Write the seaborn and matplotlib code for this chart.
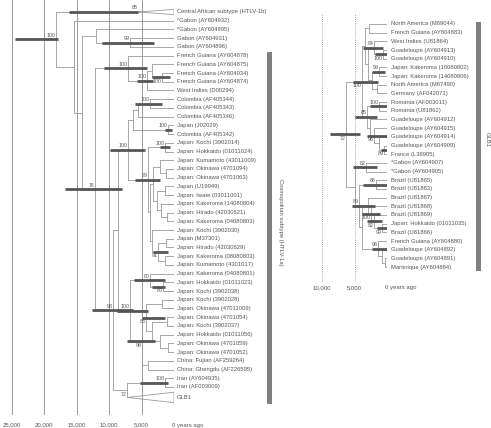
import matplotlib
matplotlib.use("Agg")
import matplotlib.pyplot as plt
import matplotlib.transforms as mtransforms
from matplotlib.patches import Rectangle
import pandas as pd
import seaborn as sns

# ---------------- left tree: HTLV-1 overview ----------------
left_tips = [
    "Central African subtype (HTLV-1b)",
    "*Gabon (AY604932)", "*Gabon (AY604895)", "Gabon (AY604931)", "Gabon (AY604896)",
    "French Guiana (AY604878)", "French Guiana (AY604875)", "French Guiana (AY604934)",
    "French Guiana (AY604874)", "West Indies (D00294)",
    "Colombia (AF405344)", "Colombia (AF405343)", "Colombia (AF405346)",
    "Japan (J02029)", "Colombia (AF405342)",
    "Japan: Kochi (3902014)", "Japan: Hokkaido (01011024)", "Japan: Kumamoto (43011009)",
    "Japan: Okinawa (4701094)", "Japan: Okinawa (4701063)", "Japan (U19949)",
    "Japan: Iwate (03011001)", "Japan: Kakeroma (14080804)", "Japan: Hirado (42030621)",
    "Japan: Kakeroma (04080803)", "Japan: Kochi (3902030)", "Japan (M37301)",
    "Japan: Hirado (42030629)", "Japan: Kakeroma (08080803)", "Japan: Kumamoto (4301017)",
    "Japan: Kakeroma (04080801)", "Japan: Hokkaido (01011023)", "Japan: Kochi (3902038)",
    "Japan: Kochi (3902028)", "Japan: Okinawa (47011009)", "Japan: Okinawa (4701054)",
    "Japan: Kochi (3902037)", "Japan: Hokkaido (01011056)", "Japan: Okinawa (4701059)",
    "Japan: Okinawa (4701052)", "China: Fujian (AF259264)", "China: Ghengdu (AF226595)",
    "Iran (AY604935)", "Iran (AF003009)", "GLB1",
]
left_tip_y = list(range(44)) + [44.2]
left_collapsed = {"CA": 0, "GLB1": 44}

left_children = {
    "R": ["CA", "A"], "A": [1, "B"], "B": ["G", "D"], "G": [2, "G99"], "G99": [3, 4],
    "D": ["FG", "E"], "FG": [5, "FG2"], "FG2": ["FG3", 9], "FG3": [6, "FG4"], "FG4": [7, 8],
    "E": ["F", "GI"], "F": ["CJ", "N100b"], "CJ": ["C0", "J79"], "C0": ["C1", "P1314"],
    "C1": ["P1011", 12], "P1011": [10, 11], "P1314": [13, 14],
    "J79": ["J100", "Jbig"], "J100": [15, 16], "Jbig": ["Jx", "Jup"], "Jx": ["J17", "J20"],
    "J17": [17, "P1819"], "P1819": [18, 19], "J20": ["P2021", "J22"], "P2021": [20, 21],
    "J22": [22, "P2324"], "P2324": [23, 24], "Jup": [25, "N91"], "N91": ["P2627", "P2829"],
    "P2627": [26, 27], "P2829": [28, 29],
    "N100b": ["N80", "N98b"], "N80": [30, "P3132"], "P3132": [31, 32],
    "N98b": ["N88", "CH"], "N88": ["J33", "J35"], "J33": [33, 34], "J35": ["P3536", "J37"],
    "P3536": [35, 36], "J37": [37, "P3839"], "P3839": [38, 39], "CH": [40, 41],
    "GI": ["IR", "GLB1"], "IR": [42, 43],
}
# node ages (years before present)
left_age = {
    "R": 18200, "CA": 5550, "A": 15430, "B": 14200, "G": 12040, "G99": 6790, "D": 12190,
    "FG": 7100, "FG2": 4170, "FG3": 3400, "FG4": 1850, "E": 9410, "F": 8640, "CJ": 7100,
    "C0": 6330, "C1": 5550, "P1011": 3700, "P1314": 930, "J79": 4010, "J100": 1390,
    "Jbig": 3700, "Jx": 3240, "J17": 2160, "P1819": 1230, "J20": 2620, "P2021": 1390,
    "J22": 2000, "P2324": 1080, "Jup": 3400, "N91": 2470, "P2627": 1230, "P2829": 1390,
    "N100b": 6790, "N80": 3700, "P3132": 1700, "N98b": 4940, "N88": 4320, "J33": 1850,
    "J35": 3400, "P3536": 1080, "J37": 2160, "P3839": 930, "CH": 4010, "GI": 7250,
    "GLB1": 7200, "IR": 1390,
}
left_support = {
    "R": 100, "CA": 85, "G99": 99, "D": 76, "FG": 100, "FG2": 100, "FG4": 100, "E": 98,
    "GI": 72, "IR": 100, "CJ": 100, "P1011": 100, "P1314": 100, "J100": 100, "J79": 79,
    "N91": 91, "N80": 80, "P3132": 80, "N88": 88, "N98b": 98, "N100b": 100,
}
left_below = ["FG4", "GI", "N91", "P3132", "N88", "N98b"]
left_hpd = {
    "R": (24500, 17900), "CA": (16200, 5550), "G99": (11100, 3100), "D": (16800, 8000),
    "FG": (10800, 4200), "FG2": (5700, 3200), "FG4": (3400, 600), "E": (12650, 6300),
    "IR": (5250, 900), "CJ": (9900, 4500), "P1011": (6000, 1850), "P1314": (1400, 300),
    "J100": (2150, 600), "J79": (6000, 2150), "N91": (3250, 900), "N80": (6150, 1400),
    "P3132": (3400, 1400), "N88": (4950, 1400), "N98b": (7250, 2900), "N100b": (8800, 4000),
}
left_ticks = [25000, 20000, 15000, 10000, 5000]

# ---------------- right tree: GLB1 expanded ----------------
right_tips = [
    "North America (M69044)", "French Guiana (AY604883)", "West Indies (U81864)",
    "Guadeloupe (AY604913)", "Guadeloupe (AY604910)", "Japan: Kakeroma (16080802)",
    "Japan: Kakeroma (14080806)", "North America (M67490)", "Germany (AF042071)",
    "Romania (AF003011)", "Romania (U81862)", "Guadeloupe (AY604912)",
    "Guadeloupe (AY604915)", "Guadeloupe (AY604914)", "Guadeloupe (AY604909)",
    "France (L36905)", "*Gabon (AY604907)", "*Gabon (AY604905)", "Brazil (U81865)",
    "Brazil (U81863)", "Brazil (U81867)", "Brazil (U81868)", "Brazil (U81869)",
    "Japan: Hokkaido (01011035)", "Brazil (U81866)", "French Guiana (AY604880)",
    "Guadeloupe (AY604892)", "Guadeloupe (AY604891)", "Martinique (AY604884)",
]
right_tip_y = list(range(29))
right_children = {
    "RR": ["U", "L"], "U": ["UA", "UB"], "UA": ["P01", "UA2"], "P01": [0, 1],
    "UA2": ["N84", "UA3"], "N84": [2, "P34"], "P34": [3, 4], "UA3": ["P56", "UA4"],
    "P56": [5, 6], "UA4": [7, 8], "UB": ["P910", "UB2"], "P910": [9, 10],
    "UB2": [11, "UB3"], "UB3": [12, "UB4"], "UB4": [13, "P1415"], "P1415": [14, 15],
    "L": ["G82", "L2"], "G82": [16, 17], "L2": ["B86", "L3"], "B86": [18, 19],
    "L3": ["Ba", "C98"], "Ba": [20, "B100"], "B100": [21, "B82"], "B82": [22, "B99"],
    "B99": [23, 24], "C98": [25, "C2"], "C2": [26, "C3"], "C3": [27, 28],
}
right_age = {
    "RR": 6330, "U": 3860, "UA": 3400, "P01": 2780, "UA2": 2930, "N84": 2010, "P34": 620,
    "UA3": 2310, "P56": 1230, "UA4": 1540, "UB": 3090, "P910": 1230, "UB2": 2620,
    "UB3": 2010, "UB4": 1230, "P1415": 460, "L": 4940, "G82": 3240, "L2": 4320,
    "B86": 1700, "L3": 3860, "Ba": 2930, "B100": 2470, "B82": 2010, "B99": 770,
    "C98": 1390, "C2": 770, "C3": 310,
}
right_support = {
    "RR": 72, "U": 100, "N84": 84, "P34": 100, "P56": 99, "P910": 100, "UB": 85,
    "UB3": 98, "P1415": 89, "G82": 82, "L2": 89, "B86": 86, "B100": 100, "B82": 82,
    "B99": 99, "C98": 98,
}
right_below = ["RR", "U", "P34", "UB3", "P1415", "B100", "B82", "B99"]
right_hpd = {
    "RR": (8840, 4190), "U": (5270, 1400), "N84": (3720, 620), "P34": (1860, 0),
    "P56": (2330, 310), "P910": (2640, 0), "UB": (4960, 1550), "UB3": (3100, 0),
    "P1415": (930, 0), "G82": (5270, 1550), "L2": (5430, 1860), "B86": (3720, 0),
    "B100": (3880, 1080), "B82": (3100, 780), "B99": (1550, 0), "C98": (2330, 0),
}
right_ticks = [10000, 5000]

BRANCH = "#9a9a9a"
BAR = "#555555"
TEXT = "#555555"
GRID = "#8a8a8a"


def tree_frames(children, ages, tip_y, collapsed, tri_h):
    def age(n):
        return 0.0 if isinstance(n, int) else ages[n]

    cache = {}

    def ypos(n):
        if isinstance(n, int):
            return tip_y[n]
        if n in collapsed:
            return tip_y[collapsed[n]]
        if n not in cache:
            ys = [ypos(c) for c in children[n]]
            cache[n] = (min(ys) + max(ys)) / 2
        return cache[n]

    rows = []
    seg = 0
    for n, kids in children.items():
        ys = [ypos(c) for c in kids]
        rows += [(seg, age(n), min(ys)), (seg, age(n), max(ys))]
        seg += 1
        for c in kids:
            rows += [(seg, age(n), ypos(c)), (seg, age(c), ypos(c))]
            seg += 1
    for n in collapsed:
        yc, a, h = ypos(n), age(n), tri_h[n]
        rows += [(seg, a, yc), (seg, 0, yc - h), (seg, 0, yc + h), (seg, a, yc)]
        seg += 1
    nodes = list(children) + list(collapsed)
    return pd.DataFrame(rows, columns=["seg", "x", "y"]), {n: ypos(n) for n in nodes}


def draw_tree(ax, fig, tips, tip_y, children, ages, collapsed, tri_h,
              support, below, hpd, label_dx):
    df, ny = tree_frames(children, ages, tip_y, collapsed, tri_h)
    sns.lineplot(data=df, x="x", y="y", units="seg", estimator=None, sort=False,
                 color=BRANCH, lw=0.6, ax=ax, legend=False, zorder=2)
    bars = []
    for i, (n, (lo, hi)) in enumerate(hpd.items()):
        bars += [(i, lo, ny[n]), (i, hi, ny[n])]
    bdf = pd.DataFrame(bars, columns=["seg", "x", "y"])
    sns.lineplot(data=bdf, x="x", y="y", units="seg", estimator=None, sort=False,
                 color=BAR, lw=2.0, ax=ax, legend=False, zorder=3,
                 solid_capstyle="butt")
    up = mtransforms.offset_copy(ax.transData, fig=fig, x=-0.5, y=1.6, units="dots")
    down = mtransforms.offset_copy(ax.transData, fig=fig, x=-0.5, y=-1.6, units="dots")
    for n, s in support.items():
        lo = n in below
        ax.text(ages[n], ny[n], str(s), ha="right", va="top" if lo else "bottom",
                fontsize=3.8, color=TEXT, transform=down if lo else up, zorder=4)
    lab = mtransforms.offset_copy(ax.transData, fig=fig, x=label_dx, y=0, units="dots")
    for t, y in zip(tips, tip_y):
        ax.text(0, y, t, ha="left", va="center", fontsize=4.2, color=TEXT,
                transform=lab, clip_on=False)


sns.set_theme(style="white")
plt.rcParams["font.family"] = ["Liberation Sans", "DejaVu Sans"]

W, H = 491, 428
SCALE = 0.00648   # pixels per year
fig = plt.figure(figsize=(W / 100, H / 100), dpi=100)

# left panel: x pixels 0..174, y pixels 0..415 ; tip 0 at y=12, step 8.72
axL = fig.add_axes([0, (H - 415) / H, 174 / W, 415 / H])
axL.set_xlim(174 / SCALE, 0)
axL.set_ylim((415 - 12) / 8.72, -12 / 8.72)
axL.axis("off")
for t in left_ticks:
    axL.axvline(t, color=GRID, lw=0.6, zorder=0)
axL.axvline(0, color=GRID, lw=0.6, ls=(0, (1, 1.5)), zorder=0)
draw_tree(axL, fig, left_tips, left_tip_y, left_children, left_age, left_collapsed,
          {"CA": 0.3, "GLB1": 0.6}, left_support, left_below, left_hpd, 3)
ty = (425 - 12) / 8.72
for t in left_ticks:
    axL.text(t, ty, f"{t:,}", ha="center", va="center", fontsize=4.3, color=TEXT,
             clip_on=False)
zl = mtransforms.offset_copy(axL.transData, fig=fig, x=-1.6, y=0, units="dots")
axL.text(0, ty, "0 years ago", ha="left", va="center", fontsize=4.3, color=TEXT,
         transform=zl, clip_on=False)

# right panel: x pixels 300..387, y pixels 13..282 ; tip 0 at y=24, step 8.68
axR = fig.add_axes([300 / W, (H - 282) / H, 87 / W, 269 / H])
axR.set_xlim(87 / SCALE, 0)
axR.set_ylim((282 - 24) / 8.68, (13 - 24) / 8.68)
axR.axis("off")
for t in right_ticks + [0]:
    axR.axvline(t, color=GRID, lw=0.6, ls=(0, (1, 1.5)), zorder=0)
draw_tree(axR, fig, right_tips, right_tip_y, right_children, right_age, {}, {},
          right_support, right_below, right_hpd, 4)
ty = (288 - 24) / 8.68
for t in right_ticks:
    axR.text(t, ty, f"{t:,}", ha="center", va="center", fontsize=4.3, color=TEXT,
             clip_on=False)
zr = mtransforms.offset_copy(axR.transData, fig=fig, x=-1.6, y=0, units="dots")
axR.text(0, ty, "0 years ago", ha="left", va="center", fontsize=4.3, color=TEXT,
         transform=zr, clip_on=False)

# clade bars and labels
ov = fig.add_axes([0, 0, 1, 1], zorder=-1)
ov.set_xlim(0, W)
ov.set_ylim(H, 0)
ov.axis("off")
ov.add_patch(Rectangle((267, 52), 5, 352, color="#7f7f7f", lw=0))
ov.text(281, 222, "Cosmopolitan subtype (HTLV-1a)", rotation=-90, ha="center",
        va="center", fontsize=4.2, color=TEXT)
ov.add_patch(Rectangle((476, 22), 5, 249, color="#7f7f7f", lw=0))
ov.text(487, 140, "GLB1", rotation=-90, ha="center", va="center", fontsize=4.2,
        color=TEXT)

fig.savefig("out.png", dpi=100)
